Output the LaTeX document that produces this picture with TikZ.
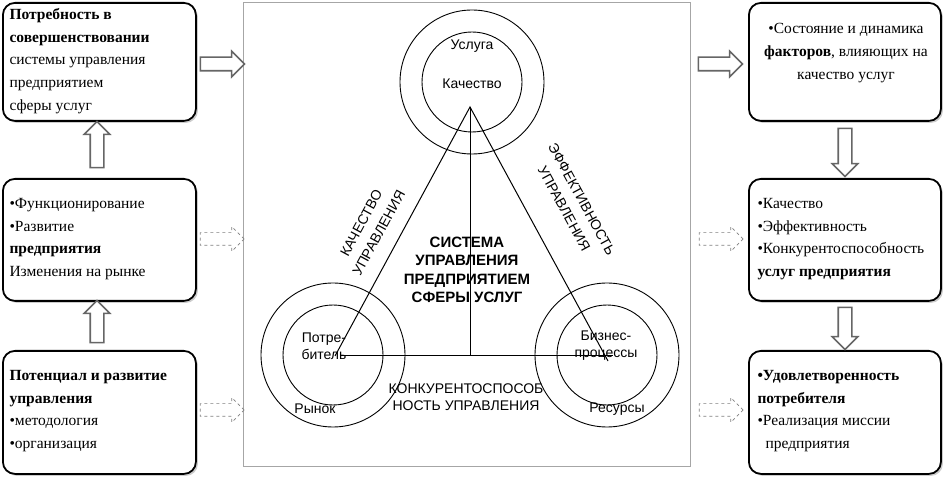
\documentclass[tikz,border=0pt]{standalone}
\usepackage{fontspec}
\setmainfont{Liberation Serif}
\setsansfont{Liberation Sans}
\usetikzlibrary{shapes.arrows,shadows}
\begin{document}
\begin{tikzpicture}[x=1pt,y=-1pt,
  box/.style={draw,line width=1.8pt,rounded corners=12pt,fill=white,drop shadow={shadow xshift=2pt,shadow yshift=-2pt,opacity=.4}},
  btxt/.style={font=\fontsize{15.5}{22.8}\selectfont,align=left,anchor=west},
  circ/.style={draw,circle,line width=0.9pt},
  ctxt/.style={font=\sffamily\fontsize{14}{17}\selectfont,align=center,inner sep=1pt},
  rtxt/.style={ctxt,font=\sffamily\fontsize{14}{20}\selectfont},
  harrow/.style={draw=gray!80!black,line width=1.6pt,fill=white,single arrow,single arrow head extend=6pt,minimum height=44pt,inner xsep=0pt,inner ysep=6pt},
  darrow/.style={harrow,dashed,draw=gray,line width=0.7pt}]
\useasboundingbox (0,0) rectangle (943,478);
\node[draw=gray!70,line width=0.8pt,minimum width=447pt,minimum height=464pt,anchor=north west] (frame) at (243,2) {};
\node[box,minimum width=193pt,minimum height=118pt,anchor=north west] (L1) at (2,2) {};
\node[box,minimum width=193pt,minimum height=122pt,anchor=north west] (L2) at (2,178) {};
\node[box,minimum width=193pt,minimum height=123pt,anchor=north west] (L3) at (2,350) {};
\node[box,minimum width=192pt,minimum height=118pt,anchor=north west] (R1) at (748,2) {};
\node[box,minimum width=192pt,minimum height=122pt,anchor=north west] (R2) at (748,178) {};
\node[box,minimum width=192pt,minimum height=123pt,anchor=north west] (R3) at (748,350) {};
\node[btxt] (t1) at (6,61) {\textbf{Потребность в}\\\textbf{совершенствовании}\\системы управления\\предприятием\\сферы услуг};
\node[btxt] (t2) at (6,239) {•Функционирование\\•Развитие\\\textbf{предприятия}\\Изменения на рынке};
\node[btxt] (t3) at (6,411) {\textbf{Потенциал и развитие}\\\textbf{управления}\\•методология\\•организация};
\node[btxt,align=center,anchor=center] (t4) at (846,53) {•Состояние и динамика\\\textbf{факторов}, влияющих на\\качество услуг};
\node[btxt] (t5) at (754,239) {•Качество\\•Эффективность\\•Конкурентоспособность\\\textbf{услуг предприятия}};
\node[btxt] (t6) at (754,411) {\textbf{•Удовлетворенность}\\\textbf{потребителя}\\•Реализация миссии\\\hspace*{8pt}предприятия};
\node[harrow] (a1) at (219,64) {};
\node[harrow] (a2) at (717,64) {};
\node[harrow,rotate=90,minimum height=46pt] (a3) at (97,148) {};
\node[harrow,rotate=90,minimum height=42pt] (a4) at (97,325) {};
\node[harrow,rotate=-90,minimum height=48pt] (a5) at (845,149) {};
\node[harrow,rotate=-90,minimum height=42pt] (a6) at (845,325) {};
\node[darrow] (d1) at (219,239) {};
\node[darrow] (d2) at (219,410) {};
\node[darrow] (d3) at (718,239) {};
\node[darrow] (d4) at (718,410) {};
\node[circ,minimum size=144pt] (c1o) at (472,82) {};
\node[circ,minimum size=100pt] (c1i) at (472,82) {};
\node[circ,minimum size=144pt] (c2o) at (333,355) {};
\node[circ,minimum size=100pt] (c2i) at (333,355) {};
\node[circ,minimum size=144pt] (c3o) at (607,355) {};
\node[circ,minimum size=100pt] (c3i) at (607,355) {};
\coordinate (A) at (470,107);
\coordinate (B) at (335,356);
\coordinate (C) at (608,361);
\coordinate (M) at (470,356);
\coordinate (BL) at (341,356);
\coordinate (BR) at (613,356);
\draw[line width=1pt] (B) -- (A) -- (C);
\draw[line width=1pt] (A) -- (M);
\draw[line width=1pt] (BL) -- (BR);
\node[ctxt] (u) at (472,46) {Услуга};
\node[ctxt] (k) at (472,84) {Качество};
\node[ctxt] (p) at (324,346) {Потре-\\битель};
\node[ctxt] (r) at (315,409) {Рынок};
\node[ctxt] (b) at (606,346) {Бизнес-\\процессы};
\node[ctxt] (rs) at (617,409) {Ресурсы};
\node[ctxt] (kn) at (466,397) {КОНКУРЕНТОСПОСОБ\\НОСТЬ УПРАВЛЕНИЯ};
\node[rtxt,rotate=61.5] (ku) at (370,228) {КАЧЕСТВО\\УПРАВЛЕНИЯ};
\node[rtxt,rotate=-61.5] (ef) at (573,204) {ЭФФЕКТИВНОСТЬ\\УПРАВЛЕНИЯ};
\node[ctxt,font=\sffamily\bfseries\fontsize{15}{18.5}\selectfont] (sys) at (467,270) {СИСТЕМА\\УПРАВЛЕНИЯ\\ПРЕДПРИЯТИЕМ\\СФЕРЫ УСЛУГ};
\end{tikzpicture}
\end{document}
